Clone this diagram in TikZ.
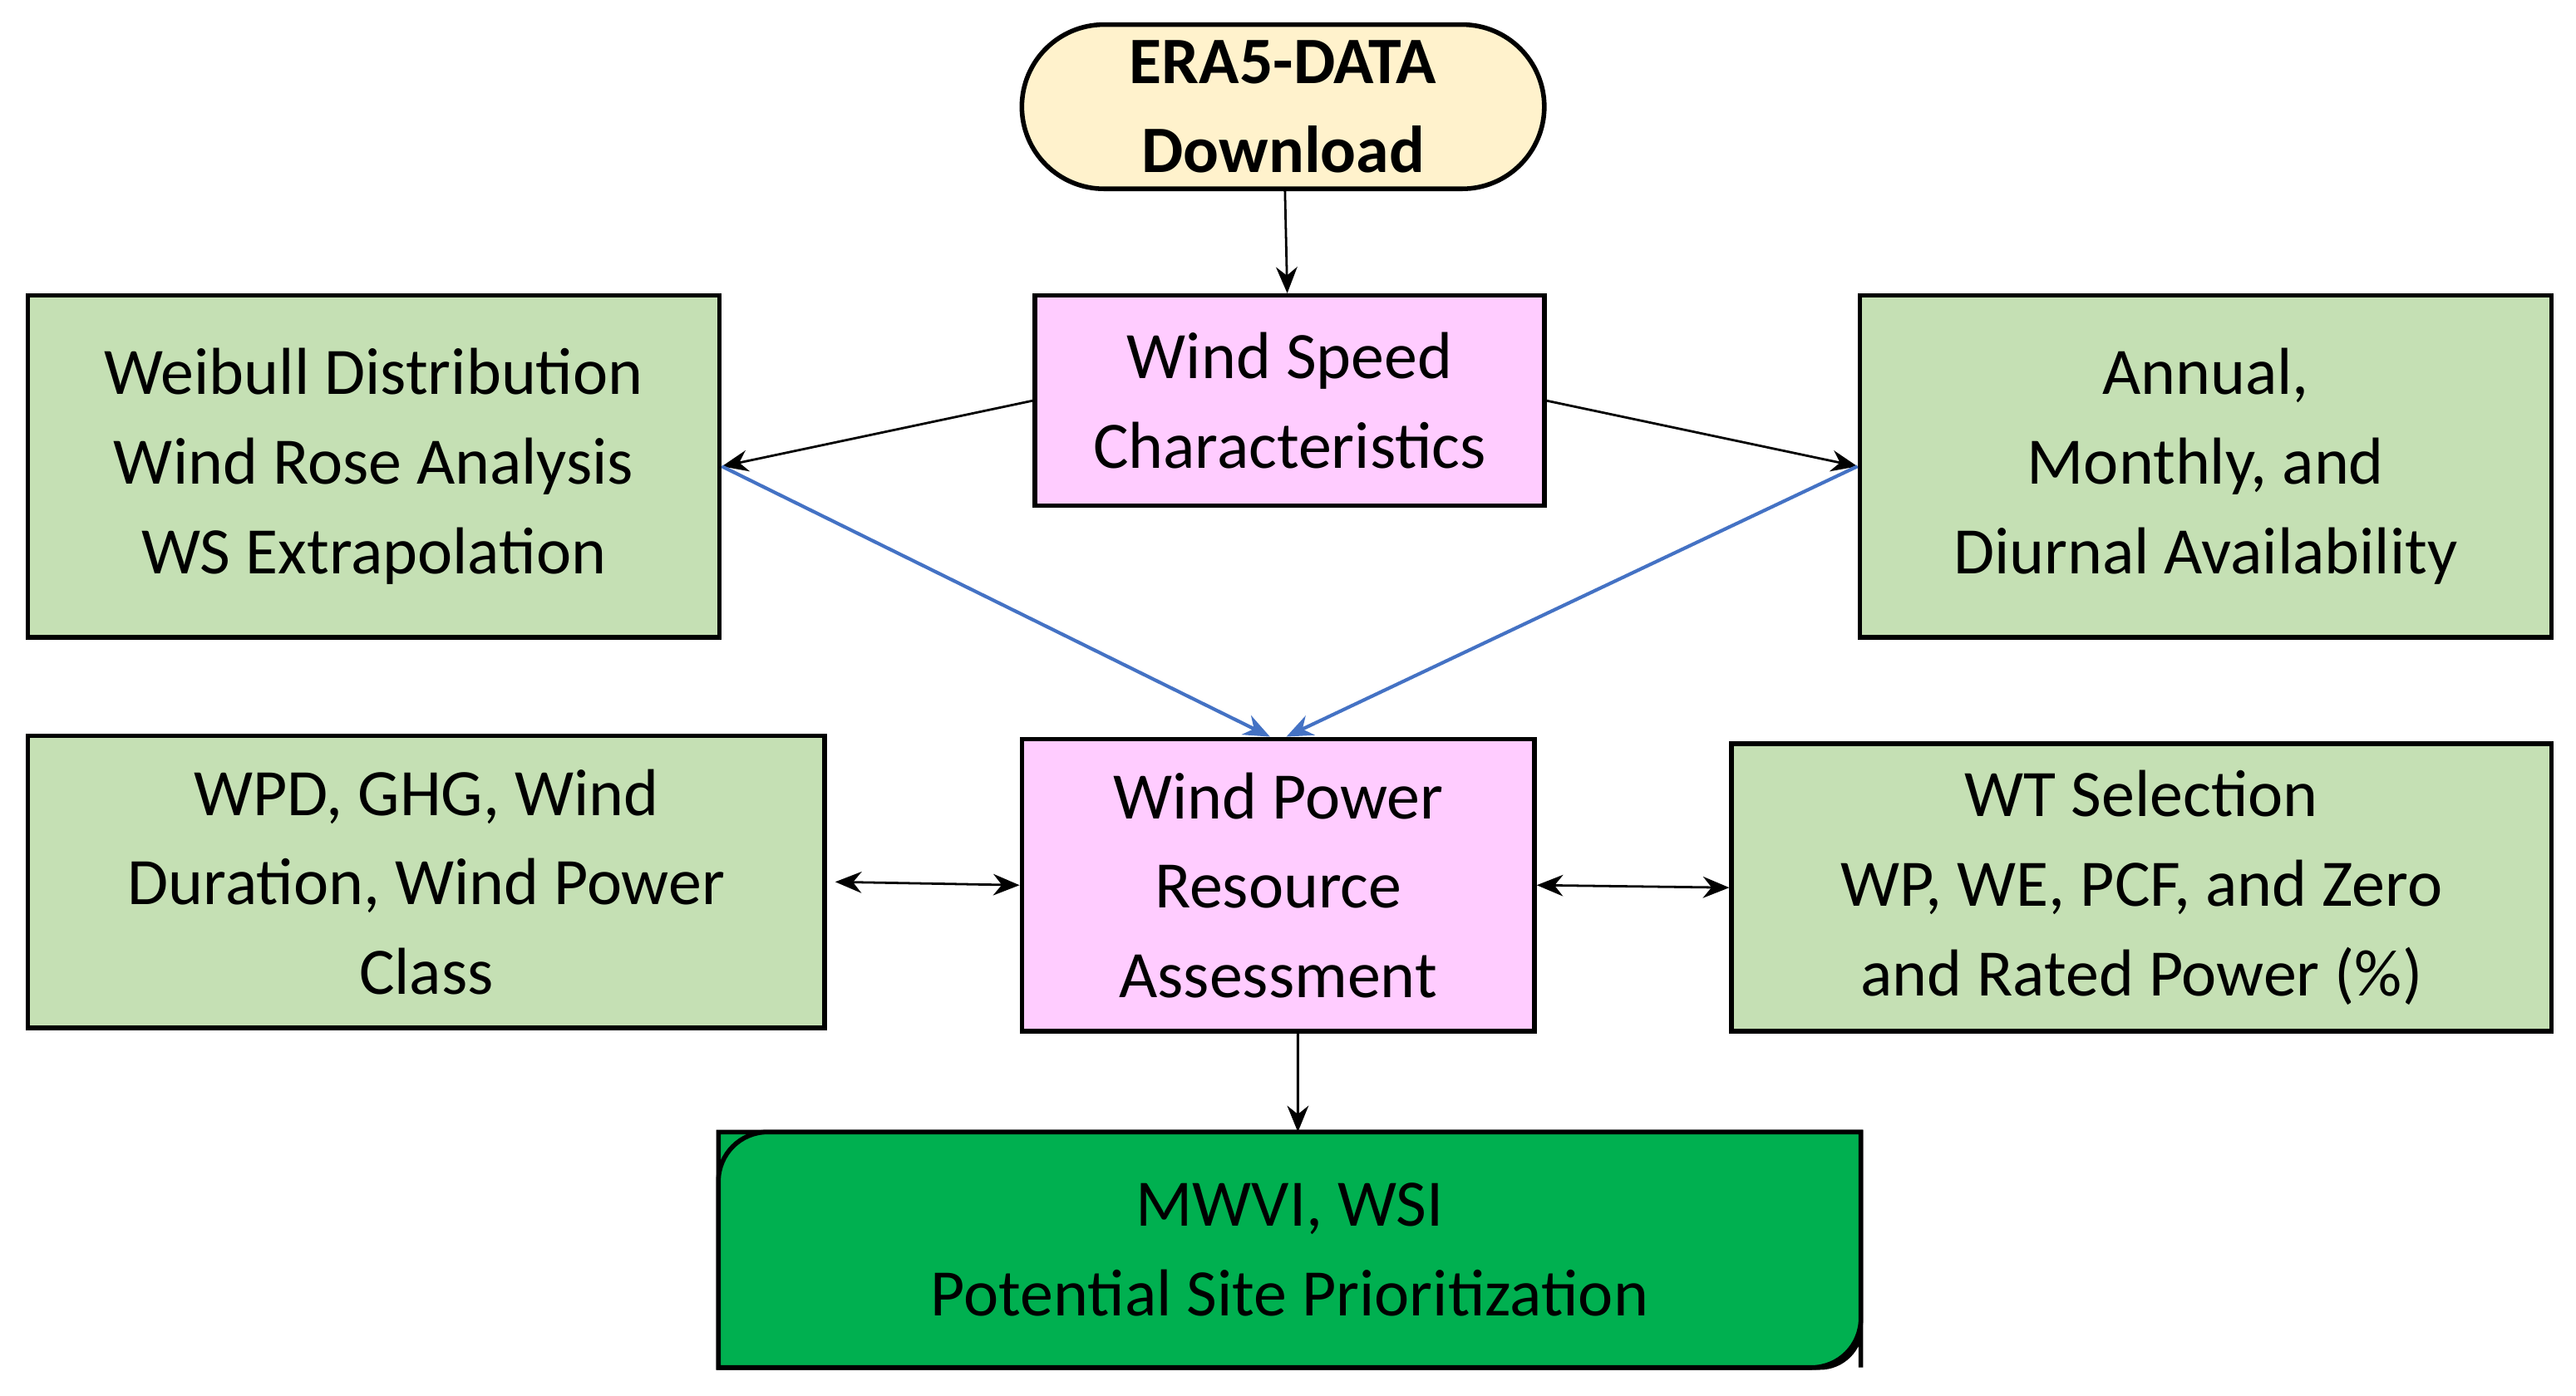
\documentclass[tikz,border=0pt]{standalone}
\usepackage{fontspec}
\setmainfont{Carlito}
\usetikzlibrary{arrows.meta,positioning}
\definecolor{boxgreen}{HTML}{C5E0B4}
\definecolor{boxpink}{HTML}{FFCCFF}
\definecolor{boxcream}{HTML}{FFF2CC}
\definecolor{darkgreen}{HTML}{00B050}
\definecolor{linkblue}{HTML}{4472C4}
\begin{document}
\begin{tikzpicture}%
		[
			font={\fontsize{11.5}{15.5}\selectfont},
			every node/.style={align=center, inner sep=0},
			box/.style={draw, thick, rectangle},
			green box/.style={box, fill=boxgreen},
			pink box/.style={box, fill=boxpink},
			arch/.style={-{Stealth[length=1.6mm,width=1.3mm]}, thin},
			both/.style={{Stealth[length=1.6mm,width=1.3mm]}-{Stealth[length=1.6mm,width=1.3mm]}, thin},
			blue arch/.style={arch, linkblue, semithick},
		]
		\useasboundingbox (0,0) rectangle (15.68,8.5);
		\node[draw, thick, fill=boxcream, rounded corners=0.5cm, minimum width=3.18cm, minimum height=1cm]
		(era) at (7.81,7.85) {\textbf{ERA5-DATA}\\\textbf{Download}};
		\node[pink box, minimum width=3.1cm, minimum height=1.28cm]
		(ws) at (7.85,6.06) {Wind Speed\\Characteristics};
		\node[green box, minimum width=4.21cm, minimum height=2.08cm]
		(weib) at (2.275,5.66) {Weibull Distribution\\Wind Rose Analysis\\WS Extrapolation};
		\node[green box, minimum width=4.21cm, minimum height=2.08cm]
		(avail) at (13.425,5.66) {Annual,\\Monthly, and\\Diurnal Availability};
		\node[green box, minimum width=4.85cm, minimum height=1.78cm]
		(wpd) at (2.595,3.13) {WPD, GHG, Wind\\Duration, Wind Power\\Class};
		\node[pink box, minimum width=3.12cm, minimum height=1.78cm]
		(wpra) at (7.78,3.11) {Wind Power\\Resource\\Assessment};
		\node[green box, minimum width=4.99cm, minimum height=1.75cm]
		(wt) at (13.035,3.095) {WT Selection\\WP, WE, PCF, and Zero\\and Rated Power (\%)};
		\node[minimum width=6.94cm, minimum height=1.42cm]
		(mwvi) at (7.85,0.89) {MWVI, WSI\\Potential Site Prioritization};
		% snipped-corner look of the last box
		\begin{scope}[on background layer/.try]
		\end{scope}
		\fill[darkgreen, draw=black, thick]
		(mwvi.north east) -- (mwvi.south east) [rounded corners=0.25cm] -- (mwvi.south east) [sharp corners]
		-- (mwvi.south west) -- (mwvi.north west) -- cycle;
		\draw[thick, fill=darkgreen, rounded corners=0.3cm]
		(mwvi.south west) -- (mwvi.north west) [sharp corners] -- (mwvi.north east)
		[rounded corners=0.3cm] -- (mwvi.south east) [sharp corners] -- cycle;
		\node at (mwvi) {MWVI, WSI\\Potential Site Prioritization};
		\draw[arch] (era) -- (ws);
		\draw[arch] (ws.west) -- (weib.east);
		\draw[arch] (ws.east) -- (avail.west);
		\draw[blue arch] (weib.east) -- ([xshift=-0.05cm]wpra.north);
		\draw[blue arch] (avail.west) -- ([xshift=0.05cm]wpra.north);
		\draw[both] ([xshift=0.05cm]wpd.east) -- (wpra.west);
		\draw[both] (wpra.east) -- (wt.west);
		\draw[arch] ([xshift=0.12cm]wpra.south) -- ([xshift=0.05cm]mwvi.north);
	\end{tikzpicture}
\end{document}
